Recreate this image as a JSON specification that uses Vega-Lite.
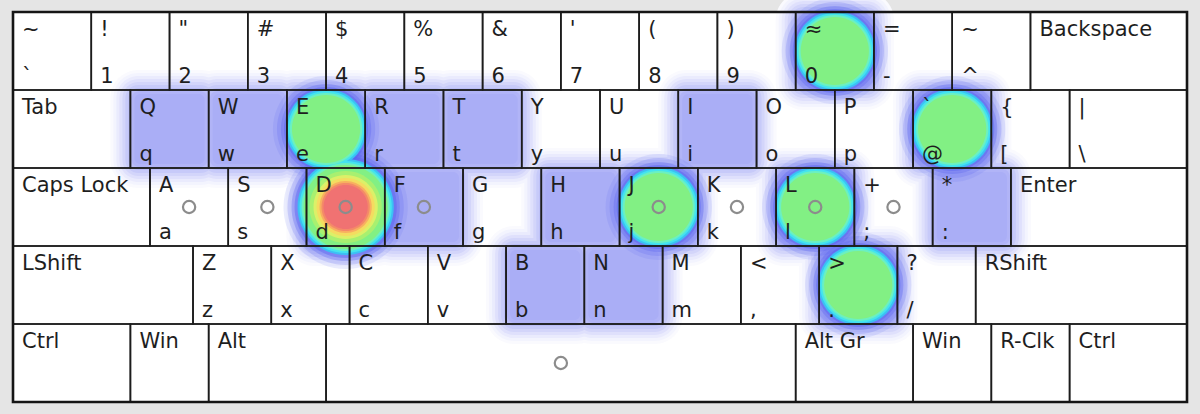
{
  "$schema": "https://vega.github.io/schema/vega-lite/v6.json",
  "width": 1174,
  "height": 390,
  "autosize": {"type": "none"},
  "padding": {"left": 13, "top": 12, "right": 13, "bottom": 12},
  "background": "#e5e5e5",
  "config": {"view": {"stroke": null}},
  "datasets": {
    "keys": [
      {"x0": 0, "x1": 1, "y0": 0, "y1": 1, "t": "~", "b": "`", "h": 0},
      {"x0": 1, "x1": 2, "y0": 0, "y1": 1, "t": "!", "b": "1", "h": 0},
      {"x0": 2, "x1": 3, "y0": 0, "y1": 1, "t": "\"", "b": "2", "h": 0},
      {"x0": 3, "x1": 4, "y0": 0, "y1": 1, "t": "#", "b": "3", "h": 0},
      {"x0": 4, "x1": 5, "y0": 0, "y1": 1, "t": "$", "b": "4", "h": 0},
      {"x0": 5, "x1": 6, "y0": 0, "y1": 1, "t": "%", "b": "5", "h": 0},
      {"x0": 6, "x1": 7, "y0": 0, "y1": 1, "t": "&", "b": "6", "h": 0},
      {"x0": 7, "x1": 8, "y0": 0, "y1": 1, "t": "'", "b": "7", "h": 0},
      {"x0": 8, "x1": 9, "y0": 0, "y1": 1, "t": "(", "b": "8", "h": 0},
      {"x0": 9, "x1": 10, "y0": 0, "y1": 1, "t": ")", "b": "9", "h": 0},
      {"x0": 10, "x1": 11, "y0": 0, "y1": 1, "t": "≈", "b": "0", "h": 2},
      {"x0": 11, "x1": 12, "y0": 0, "y1": 1, "t": "=", "b": "-", "h": 0},
      {"x0": 12, "x1": 13, "y0": 0, "y1": 1, "t": "~", "b": "^", "h": 0},
      {"x0": 13, "x1": 15, "y0": 0, "y1": 1, "t": "Backspace", "b": "", "h": 0},
      {"x0": 0, "x1": 1.5, "y0": 1, "y1": 2, "t": "Tab", "b": "", "h": 0},
      {"x0": 1.5, "x1": 2.5, "y0": 1, "y1": 2, "t": "Q", "b": "q", "h": 1},
      {"x0": 2.5, "x1": 3.5, "y0": 1, "y1": 2, "t": "W", "b": "w", "h": 1},
      {"x0": 3.5, "x1": 4.5, "y0": 1, "y1": 2, "t": "E", "b": "e", "h": 2},
      {"x0": 4.5, "x1": 5.5, "y0": 1, "y1": 2, "t": "R", "b": "r", "h": 1},
      {"x0": 5.5, "x1": 6.5, "y0": 1, "y1": 2, "t": "T", "b": "t", "h": 1},
      {"x0": 6.5, "x1": 7.5, "y0": 1, "y1": 2, "t": "Y", "b": "y", "h": 0},
      {"x0": 7.5, "x1": 8.5, "y0": 1, "y1": 2, "t": "U", "b": "u", "h": 0},
      {"x0": 8.5, "x1": 9.5, "y0": 1, "y1": 2, "t": "I", "b": "i", "h": 1},
      {"x0": 9.5, "x1": 10.5, "y0": 1, "y1": 2, "t": "O", "b": "o", "h": 0},
      {"x0": 10.5, "x1": 11.5, "y0": 1, "y1": 2, "t": "P", "b": "p", "h": 0},
      {"x0": 11.5, "x1": 12.5, "y0": 1, "y1": 2, "t": "`", "b": "@", "h": 2},
      {"x0": 12.5, "x1": 13.5, "y0": 1, "y1": 2, "t": "{", "b": "[", "h": 0},
      {"x0": 13.5, "x1": 15, "y0": 1, "y1": 2, "t": "|", "b": "\\", "h": 0},
      {"x0": 0, "x1": 1.75, "y0": 2, "y1": 3, "t": "Caps Lock", "b": "", "h": 0},
      {"x0": 1.75, "x1": 2.75, "y0": 2, "y1": 3, "t": "A", "b": "a", "h": 0},
      {"x0": 2.75, "x1": 3.75, "y0": 2, "y1": 3, "t": "S", "b": "s", "h": 0},
      {"x0": 3.75, "x1": 4.75, "y0": 2, "y1": 3, "t": "D", "b": "d", "h": 3},
      {"x0": 4.75, "x1": 5.75, "y0": 2, "y1": 3, "t": "F", "b": "f", "h": 1},
      {"x0": 5.75, "x1": 6.75, "y0": 2, "y1": 3, "t": "G", "b": "g", "h": 0},
      {"x0": 6.75, "x1": 7.75, "y0": 2, "y1": 3, "t": "H", "b": "h", "h": 1},
      {"x0": 7.75, "x1": 8.75, "y0": 2, "y1": 3, "t": "J", "b": "j", "h": 2},
      {"x0": 8.75, "x1": 9.75, "y0": 2, "y1": 3, "t": "K", "b": "k", "h": 0},
      {"x0": 9.75, "x1": 10.75, "y0": 2, "y1": 3, "t": "L", "b": "l", "h": 2},
      {"x0": 10.75, "x1": 11.75, "y0": 2, "y1": 3, "t": "+", "b": ";", "h": 0},
      {"x0": 11.75, "x1": 12.75, "y0": 2, "y1": 3, "t": "*", "b": ":", "h": 1},
      {"x0": 12.75, "x1": 15, "y0": 2, "y1": 3, "t": "Enter", "b": "", "h": 0},
      {"x0": 0, "x1": 2.3, "y0": 3, "y1": 4, "t": "LShift", "b": "", "h": 0},
      {"x0": 2.3, "x1": 3.3, "y0": 3, "y1": 4, "t": "Z", "b": "z", "h": 0},
      {"x0": 3.3, "x1": 4.3, "y0": 3, "y1": 4, "t": "X", "b": "x", "h": 0},
      {"x0": 4.3, "x1": 5.3, "y0": 3, "y1": 4, "t": "C", "b": "c", "h": 0},
      {"x0": 5.3, "x1": 6.3, "y0": 3, "y1": 4, "t": "V", "b": "v", "h": 0},
      {"x0": 6.3, "x1": 7.3, "y0": 3, "y1": 4, "t": "B", "b": "b", "h": 1},
      {"x0": 7.3, "x1": 8.3, "y0": 3, "y1": 4, "t": "N", "b": "n", "h": 1},
      {"x0": 8.3, "x1": 9.3, "y0": 3, "y1": 4, "t": "M", "b": "m", "h": 0},
      {"x0": 9.3, "x1": 10.3, "y0": 3, "y1": 4, "t": "<", "b": ",", "h": 0},
      {"x0": 10.3, "x1": 11.3, "y0": 3, "y1": 4, "t": ">", "b": ".", "h": 2},
      {"x0": 11.3, "x1": 12.3, "y0": 3, "y1": 4, "t": "?", "b": "/", "h": 0},
      {"x0": 12.3, "x1": 15, "y0": 3, "y1": 4, "t": "RShift", "b": "", "h": 0},
      {"x0": 0, "x1": 1.5, "y0": 4, "y1": 5, "t": "Ctrl", "b": "", "h": 0},
      {"x0": 1.5, "x1": 2.5, "y0": 4, "y1": 5, "t": "Win", "b": "", "h": 0},
      {"x0": 2.5, "x1": 4, "y0": 4, "y1": 5, "t": "Alt", "b": "", "h": 0},
      {"x0": 4, "x1": 10, "y0": 4, "y1": 5, "t": "", "b": "", "h": 0},
      {"x0": 10, "x1": 11.5, "y0": 4, "y1": 5, "t": "Alt Gr", "b": "", "h": 0},
      {"x0": 11.5, "x1": 12.5, "y0": 4, "y1": 5, "t": "Win", "b": "", "h": 0},
      {"x0": 12.5, "x1": 13.5, "y0": 4, "y1": 5, "t": "R-Clk", "b": "", "h": 0},
      {"x0": 13.5, "x1": 15, "y0": 4, "y1": 5, "t": "Ctrl", "b": "", "h": 0}
    ],
    "homes": [
      {"cx": 2.25, "cy": 2.5},
      {"cx": 3.25, "cy": 2.5},
      {"cx": 4.25, "cy": 2.5},
      {"cx": 5.25, "cy": 2.5},
      {"cx": 8.25, "cy": 2.5},
      {"cx": 9.25, "cy": 2.5},
      {"cx": 10.25, "cy": 2.5},
      {"cx": 11.25, "cy": 2.5},
      {"cx": 7, "cy": 4.5}
    ],
    "frame": [{"x0": 0, "x1": 15, "y0": 0, "y1": 5}]
  },
  "layer": [
    {
      "data": {"name": "keys"},
      "encoding": {
        "x": {"field": "x0", "type": "quantitative", "scale": {"domain": [0, 15], "nice": false, "zero": false}, "axis": null},
        "x2": {"field": "x1"},
        "y": {"field": "y0", "type": "quantitative", "scale": {"domain": [0, 5], "reverse": true, "nice": false, "zero": false}, "axis": null},
        "y2": {"field": "y1"}
      },
      "layer": [
        {"mark": {"type": "rect", "color": "#ffffff"}},
        {"transform": [{"filter": "datum.h >= 1"}], "mark": {"type": "rect", "color": "#fafafe", "xOffset": -20, "x2Offset": 20, "yOffset": -20, "y2Offset": 20, "cornerRadius": 28}},
        {"transform": [{"filter": "datum.h >= 1"}], "mark": {"type": "rect", "color": "#f3f4fe", "xOffset": -17, "x2Offset": 17, "yOffset": -17, "y2Offset": 17, "cornerRadius": 25}},
        {"transform": [{"filter": "datum.h >= 1"}], "mark": {"type": "rect", "color": "#eaebfd", "xOffset": -14, "x2Offset": 14, "yOffset": -14, "y2Offset": 14, "cornerRadius": 22}},
        {"transform": [{"filter": "datum.h >= 1"}], "mark": {"type": "rect", "color": "#dfe0fc", "xOffset": -11, "x2Offset": 11, "yOffset": -11, "y2Offset": 11, "cornerRadius": 19}},
        {"transform": [{"filter": "datum.h >= 1"}], "mark": {"type": "rect", "color": "#d3d5fa", "xOffset": -8, "x2Offset": 8, "yOffset": -8, "y2Offset": 8, "cornerRadius": 16}},
        {"transform": [{"filter": "datum.h >= 1"}], "mark": {"type": "rect", "color": "#c7caf9", "xOffset": -5, "x2Offset": 5, "yOffset": -5, "y2Offset": 5, "cornerRadius": 13}},
        {"transform": [{"filter": "datum.h >= 1"}], "mark": {"type": "rect", "color": "#bbbef8", "xOffset": -2, "x2Offset": 2, "yOffset": -2, "y2Offset": 2, "cornerRadius": 10}},
        {"transform": [{"filter": "datum.h >= 1"}], "mark": {"type": "rect", "color": "#b1b4f7", "xOffset": 1, "x2Offset": -1, "yOffset": 1, "y2Offset": -1, "cornerRadius": 8}},
        {"transform": [{"filter": "datum.h >= 1"}], "mark": {"type": "rect", "color": "#aaaef6", "xOffset": 4, "x2Offset": -4, "yOffset": 4, "y2Offset": -4, "cornerRadius": 6}},
        {"transform": [{"filter": "datum.h == 2"}], "mark": {"type": "rect", "color": "#5560f0", "opacity": 0.12, "xOffset": -14, "x2Offset": 14, "yOffset": -14, "y2Offset": 14, "cornerRadius": 53}},
        {"transform": [{"filter": "datum.h == 3"}], "mark": {"type": "rect", "color": "#5560f0", "opacity": 0.12, "xOffset": -23, "x2Offset": 23, "yOffset": -23, "y2Offset": 23, "cornerRadius": 62}},
        {"transform": [{"filter": "datum.h == 2"}], "mark": {"type": "rect", "color": "#5560f0", "opacity": 0.2, "xOffset": -10, "x2Offset": 10, "yOffset": -10, "y2Offset": 10, "cornerRadius": 49}},
        {"transform": [{"filter": "datum.h == 3"}], "mark": {"type": "rect", "color": "#5560f0", "opacity": 0.2, "xOffset": -19, "x2Offset": 19, "yOffset": -19, "y2Offset": 19, "cornerRadius": 58}},
        {"transform": [{"filter": "datum.h == 2"}], "mark": {"type": "rect", "color": "#5560f0", "opacity": 0.3, "xOffset": -6, "x2Offset": 6, "yOffset": -6, "y2Offset": 6, "cornerRadius": 45}},
        {"transform": [{"filter": "datum.h == 3"}], "mark": {"type": "rect", "color": "#5560f0", "opacity": 0.3, "xOffset": -15, "x2Offset": 15, "yOffset": -15, "y2Offset": 15, "cornerRadius": 54}},
        {"transform": [{"filter": "datum.h == 2"}], "mark": {"type": "rect", "color": "#5560f0", "opacity": 0.4, "xOffset": -3, "x2Offset": 3, "yOffset": -3, "y2Offset": 3, "cornerRadius": 42}},
        {"transform": [{"filter": "datum.h == 3"}], "mark": {"type": "rect", "color": "#5560f0", "opacity": 0.4, "xOffset": -12, "x2Offset": 12, "yOffset": -12, "y2Offset": 12, "cornerRadius": 51}},
        {"transform": [{"filter": "datum.h == 2"}], "mark": {"type": "rect", "color": "#3cc0f4", "xOffset": -1, "x2Offset": 1, "yOffset": -1, "y2Offset": 1, "cornerRadius": 40}},
        {"transform": [{"filter": "datum.h == 3"}], "mark": {"type": "rect", "color": "#3cc0f4", "xOffset": -9, "x2Offset": 9, "yOffset": -9, "y2Offset": 9, "cornerRadius": 48}},
        {"transform": [{"filter": "datum.h == 2"}], "mark": {"type": "rect", "color": "#44e4ee", "xOffset": 1, "x2Offset": -1, "yOffset": 1, "y2Offset": -1, "cornerRadius": 38}},
        {"transform": [{"filter": "datum.h == 3"}], "mark": {"type": "rect", "color": "#44e4ee", "xOffset": -7, "x2Offset": 7, "yOffset": -7, "y2Offset": 7, "cornerRadius": 46}},
        {"transform": [{"filter": "datum.h == 2"}], "mark": {"type": "rect", "color": "#6cf0c0", "xOffset": 3, "x2Offset": -3, "yOffset": 3, "y2Offset": -3, "cornerRadius": 36}},
        {"transform": [{"filter": "datum.h == 3"}], "mark": {"type": "rect", "color": "#6cf0c0", "xOffset": -5, "x2Offset": 5, "yOffset": -5, "y2Offset": 5, "cornerRadius": 44}},
        {"transform": [{"filter": "datum.h == 2"}], "mark": {"type": "rect", "color": "#82f084", "xOffset": 5, "x2Offset": -5, "yOffset": 5, "y2Offset": -5, "cornerRadius": 34}},
        {"transform": [{"filter": "datum.h == 3"}], "mark": {"type": "rect", "color": "#82f084", "xOffset": -3, "x2Offset": 3, "yOffset": -3, "y2Offset": 3, "cornerRadius": 42}},
        {"transform": [{"filter": "datum.h == 3"}], "mark": {"type": "rect", "color": "#a8f070", "xOffset": 3, "x2Offset": -3, "yOffset": 3, "y2Offset": -3, "cornerRadius": 36}},
        {"transform": [{"filter": "datum.h == 3"}], "mark": {"type": "rect", "color": "#dcf068", "xOffset": 7, "x2Offset": -7, "yOffset": 7, "y2Offset": -7, "cornerRadius": 32}},
        {"transform": [{"filter": "datum.h == 3"}], "mark": {"type": "rect", "color": "#f4dc60", "xOffset": 10, "x2Offset": -10, "yOffset": 10, "y2Offset": -10, "cornerRadius": 29}},
        {"transform": [{"filter": "datum.h == 3"}], "mark": {"type": "rect", "color": "#f8b060", "xOffset": 13, "x2Offset": -13, "yOffset": 13, "y2Offset": -13, "cornerRadius": 26}},
        {"transform": [{"filter": "datum.h == 3"}], "mark": {"type": "rect", "color": "#f48a68", "xOffset": 15, "x2Offset": -15, "yOffset": 15, "y2Offset": -15, "cornerRadius": 24}},
        {"transform": [{"filter": "datum.h == 3"}], "mark": {"type": "rect", "color": "#f07272", "xOffset": 17, "x2Offset": -17, "yOffset": 17, "y2Offset": -17, "cornerRadius": 22}},
        {"mark": {"type": "rect", "filled": false, "stroke": "#1c1c1c", "strokeWidth": 1.6}}
      ]
    },
    {
      "data": {"name": "frame"},
      "mark": {"type": "rect", "filled": false, "stroke": "#151515", "strokeWidth": 2.6},
      "encoding": {
        "x": {"field": "x0", "type": "quantitative", "scale": {"domain": [0, 15], "nice": false, "zero": false}, "axis": null},
        "x2": {"field": "x1"},
        "y": {"field": "y0", "type": "quantitative", "scale": {"domain": [0, 5], "reverse": true, "nice": false, "zero": false}, "axis": null},
        "y2": {"field": "y1"}
      }
    },
    {
      "data": {"name": "keys"},
      "mark": {"type": "text", "align": "left", "baseline": "alphabetic", "dx": 9, "dy": 24, "font": "DejaVu Sans", "fontSize": 21, "color": "#1e1e1e"},
      "encoding": {
        "x": {"field": "x0", "type": "quantitative", "scale": {"domain": [0, 15], "nice": false, "zero": false}, "axis": null},
        "y": {"field": "y0", "type": "quantitative", "scale": {"domain": [0, 5], "reverse": true, "nice": false, "zero": false}, "axis": null},
        "text": {"field": "t"}
      }
    },
    {
      "data": {"name": "keys"},
      "mark": {"type": "text", "align": "left", "baseline": "alphabetic", "dx": 9, "dy": -7, "font": "DejaVu Sans", "fontSize": 21, "color": "#1e1e1e"},
      "encoding": {
        "x": {"field": "x0", "type": "quantitative", "scale": {"domain": [0, 15], "nice": false, "zero": false}, "axis": null},
        "y": {"field": "y1", "type": "quantitative", "scale": {"domain": [0, 5], "reverse": true, "nice": false, "zero": false}, "axis": null},
        "text": {"field": "b"}
      }
    },
    {
      "data": {"name": "homes"},
      "mark": {"type": "point", "shape": "circle", "filled": false, "size": 150, "stroke": "#8c8c8c", "strokeWidth": 2.2, "opacity": 1},
      "encoding": {
        "x": {"field": "cx", "type": "quantitative", "scale": {"domain": [0, 15], "nice": false, "zero": false}, "axis": null},
        "y": {"field": "cy", "type": "quantitative", "scale": {"domain": [0, 5], "reverse": true, "nice": false, "zero": false}, "axis": null}
      }
    }
  ]
}
